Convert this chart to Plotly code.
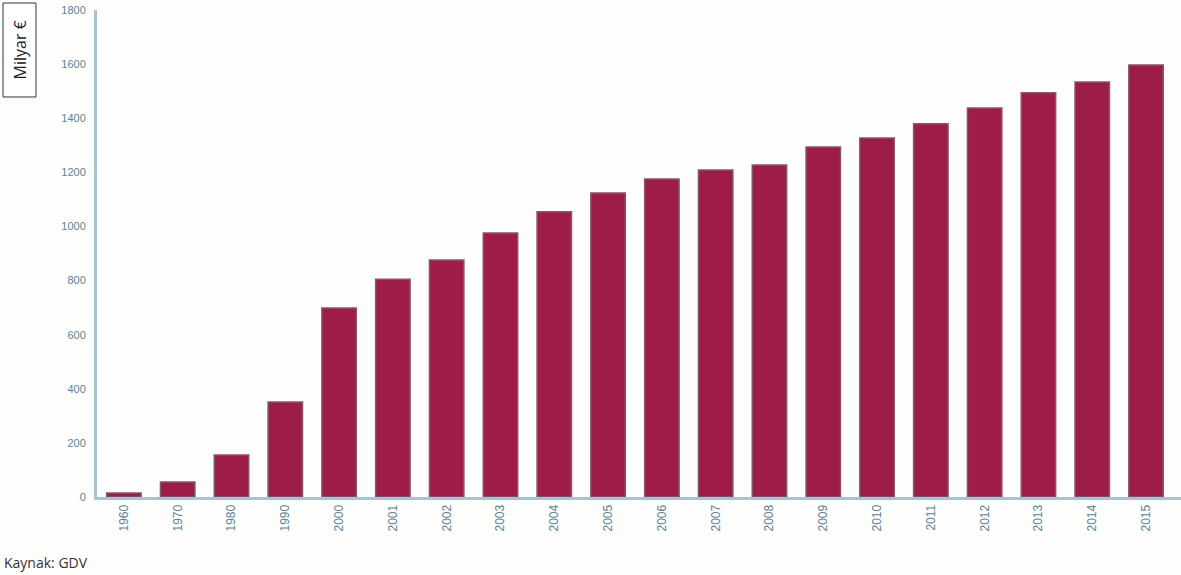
import plotly.graph_objects as go

years = ["1960", "1970", "1980", "1990", "2000", "2001", "2002", "2003", "2004", "2005",
         "2006", "2007", "2008", "2009", "2010", "2011", "2012", "2013", "2014", "2015"]
values = [15, 55, 155, 351, 699, 805, 876, 976, 1054, 1124,
          1175, 1209, 1227, 1294, 1327, 1380, 1438, 1494, 1534, 1597]
y_ticks = [0, 200, 400, 600, 800, 1000, 1200, 1400, 1600, 1800]

fig = go.Figure()
fig.add_trace(go.Bar(
    x=years, y=values, width=0.64,
    marker=dict(color="#9d1c48", line=dict(color="#86566a", width=1.5)),
))

fig.update_layout(
    width=1181, height=575,
    margin=dict(l=97, r=0, t=10, b=78),
    paper_bgcolor="#fdfdfb", plot_bgcolor="#fdfdfb",
    showlegend=False,
    xaxis=dict(
        type="category", range=[-0.5, 19.65],
        showline=True, linecolor="#a9c2d0", linewidth=3,
        ticks="", tickangle=-90,
        tickfont=dict(family="Arial", size=12, color="#5a8498"),
        showgrid=False, zeroline=False,
    ),
    yaxis=dict(
        range=[0, 1800], tickvals=y_ticks,
        showline=True, linecolor="#a9c2d0", linewidth=3,
        ticks="", ticklabelstandoff=6,
        tickfont=dict(family="Arial Black, Arial", size=11, color="#5a8498"),
        showgrid=False, zeroline=False,
    ),
    shapes=[
        dict(type="rect", xref="paper", yref="paper",
             x0=-0.0867, x1=-0.0563, y0=0.8214, y1=1.0144,
             line=dict(color="#333", width=1), fillcolor="#ffffff", layer="above"),
    ],
    annotations=[
        dict(text="Milyar €", xref="paper", yref="paper", x=-0.0715, y=0.9179,
             xanchor="center", yanchor="middle", textangle=-90, showarrow=False,
             font=dict(family="Open Sans", size=16, color="#222")),
        dict(text="Kaynak: GDV", xref="paper", yref="paper",
             x=-0.0876, y=-0.158, xanchor="left", yanchor="bottom",
             showarrow=False,
             font=dict(family="Open Sans", size=14, color="#333")),
    ],
)

fig.write_html("out.html")
